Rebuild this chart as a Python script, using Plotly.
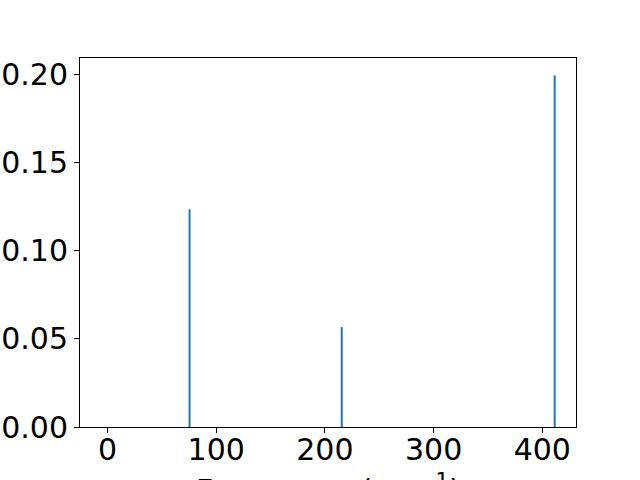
import plotly.graph_objects as go

frequencies = [75.5, 215.5, 411.4]
intensities = [0.1235, 0.0567, 0.1995]
x_ticks = [0, 100, 200, 300, 400]
y_ticks = [0.00, 0.05, 0.10, 0.15, 0.20]

xs, ys = [], []
for f, v in zip(frequencies, intensities):
    xs += [f, f, None]
    ys += [0, v, None]

fig = go.Figure(go.Scatter(x=xs, y=ys, mode="lines",
                           line=dict(color="#1f77b4", width=2),
                           showlegend=False, hoverinfo="skip"))

axis_common = dict(showgrid=False, zeroline=False, showline=True, linecolor="black",
                   linewidth=1, mirror=True, ticks="outside", ticklen=5,
                   tickwidth=1, tickcolor="black", automargin=False,
                   tickfont=dict(family="DejaVu Sans", size=30, color="black"))

fig.update_layout(
    width=640, height=480,
    margin=dict(l=80, r=64, t=58, b=53),
    paper_bgcolor="white", plot_bgcolor="white",
    xaxis=dict(range=[-25.3, 431], tickvals=x_ticks, ticklabelstandoff=-9,
               ticktext=[str(t) for t in x_ticks], **axis_common),
    yaxis=dict(range=[0, 0.2094], tickvals=y_ticks,
               ticktext=[f"{t:.2f}" for t in y_ticks], **axis_common),
    annotations=[dict(text="Frequency (cm<sup>−1</sup>)", xref="paper", yref="paper",
                      x=0.5, y=-0.109, xanchor="center", yanchor="top",
                      showarrow=False,
                      font=dict(family="DejaVu Sans", size=30, color="black"))],
)

fig.write_html("out.html", config={"displayModeBar": False},
               post_script="document.body.style.margin='0';document.body.style.overflow='hidden';")
